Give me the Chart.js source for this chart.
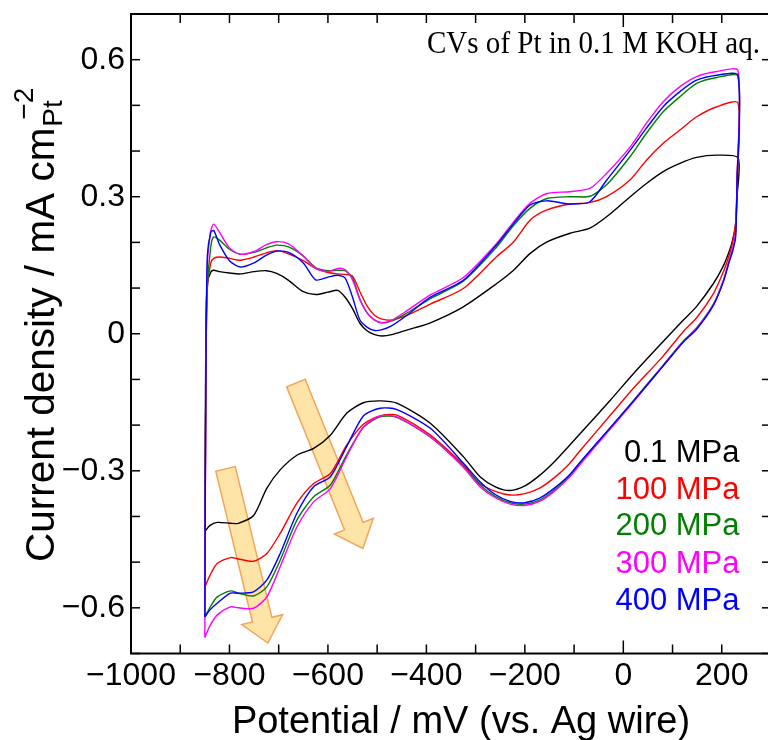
<!DOCTYPE html>
<html>
<head>
<meta charset="utf-8">
<script src="https://cdn.jsdelivr.net/npm/chart.js@4.4.1/dist/chart.umd.min.js"></script>
<style>
  html, body { margin: 0; padding: 0; background: #fff; overflow: hidden; }
  body { width: 768px; height: 740px; }
  canvas { display: block; }
</style>
</head>
<body>
<canvas id="cv" width="772" height="740"></canvas>
<script>
// potential grid (mV vs. Ag wire) for the anodic and cathodic sweeps
const potentialUp = [-850, -848, -845, -838, -832, -820, -800, -778, -750, -725, -704, -680, -650, -625, -600, -580, -565, -550, -535, -520, -505, -490, -470, -440, -392, -325, -257, -223, -189, -155, -108, -68, -34, 14, 47, 81, 115, 149, 190, 233];
const potentialDown = [231, 228, 222, 215, 203, 183, 149, 122, 80, 20, -26, -87, -110, -140, -170, -200, -230, -260, -291, -325, -392, -460, -494, -528, -562, -595, -629, -663, -697, -724, -751, -782, -798, -825, -840, -850];

// current density (mA cm-2)
const up01 = [-0.433, 0.0, 0.11, 0.135, 0.139, 0.136, 0.133, 0.131, 0.136, 0.138, 0.132, 0.117, 0.092, 0.086, 0.091, 0.095, 0.080, 0.055, 0.023, 0.006, -0.002, -0.005, -0.002, 0.008, 0.024, 0.059, 0.110, 0.139, 0.176, 0.201, 0.220, 0.231, 0.256, 0.300, 0.329, 0.355, 0.373, 0.386, 0.391, 0.385];
const down01 = [0.30, 0.24, 0.205, 0.18, 0.148, 0.11, 0.06, 0.03, -0.018, -0.088, -0.145, -0.218, -0.245, -0.28, -0.31, -0.333, -0.343, -0.335, -0.313, -0.269, -0.196, -0.152, -0.147, -0.151, -0.174, -0.222, -0.251, -0.266, -0.298, -0.338, -0.398, -0.415, -0.415, -0.413, -0.42, -0.433];

const up100 = [-0.555, -0.1, 0.10, 0.155, 0.165, 0.168, 0.165, 0.161, 0.168, 0.177, 0.182, 0.175, 0.160, 0.143, 0.134, 0.131, 0.130, 0.126, 0.092, 0.060, 0.040, 0.032, 0.030, 0.040, 0.065, 0.099, 0.169, 0.201, 0.249, 0.271, 0.284, 0.287, 0.300, 0.337, 0.380, 0.417, 0.446, 0.475, 0.497, 0.505];
const down100 = [0.33, 0.24, 0.20, 0.172, 0.135, 0.088, 0.035, 0.005, -0.05, -0.12, -0.178, -0.255, -0.285, -0.315, -0.338, -0.350, -0.353, -0.345, -0.328, -0.287, -0.222, -0.178, -0.180, -0.198, -0.244, -0.306, -0.328, -0.371, -0.437, -0.481, -0.498, -0.493, -0.490, -0.503, -0.53, -0.555];

const up200 = [-0.62, -0.1, 0.10, 0.19, 0.212, 0.205, 0.185, 0.174, 0.178, 0.188, 0.194, 0.190, 0.170, 0.145, 0.138, 0.139, 0.138, 0.122, 0.076, 0.045, 0.030, 0.024, 0.028, 0.045, 0.077, 0.115, 0.190, 0.237, 0.275, 0.296, 0.300, 0.301, 0.326, 0.388, 0.439, 0.486, 0.519, 0.548, 0.561, 0.563];
const down200 = [0.33, 0.215, 0.185, 0.16, 0.116, 0.065, 0.013, -0.016, -0.07, -0.147, -0.205, -0.282, -0.312, -0.342, -0.364, -0.373, -0.370, -0.356, -0.331, -0.290, -0.226, -0.183, -0.182, -0.205, -0.265, -0.331, -0.357, -0.408, -0.496, -0.554, -0.574, -0.568, -0.563, -0.576, -0.60, -0.62];

const up300 = [-0.665, -0.1, 0.15, 0.225, 0.240, 0.222, 0.188, 0.174, 0.180, 0.195, 0.2015, 0.197, 0.170, 0.143, 0.136, 0.143, 0.140, 0.118, 0.074, 0.045, 0.030, 0.024, 0.030, 0.050, 0.085, 0.123, 0.198, 0.245, 0.286, 0.307, 0.311, 0.318, 0.351, 0.409, 0.461, 0.508, 0.541, 0.563, 0.574, 0.576];
const down300 = [0.34, 0.22, 0.186, 0.16, 0.115, 0.064, 0.012, -0.017, -0.071, -0.15, -0.208, -0.285, -0.315, -0.345, -0.367, -0.376, -0.373, -0.359, -0.335, -0.292, -0.226, -0.182, -0.180, -0.204, -0.269, -0.339, -0.368, -0.423, -0.510, -0.576, -0.601, -0.600, -0.598, -0.616, -0.64, -0.665];

const up400 = [-0.62, -0.1, 0.17, 0.222, 0.226, 0.195, 0.160, 0.146, 0.155, 0.172, 0.181, 0.178, 0.155, 0.118, 0.124, 0.128, 0.122, 0.080, 0.030, 0.014, 0.007, 0.009, 0.018, 0.040, 0.080, 0.117, 0.195, 0.241, 0.282, 0.291, 0.284, 0.289, 0.336, 0.402, 0.450, 0.497, 0.530, 0.555, 0.566, 0.566];
const down400 = [0.33, 0.21, 0.18, 0.157, 0.113, 0.062, 0.010, -0.018, -0.072, -0.148, -0.205, -0.280, -0.310, -0.338, -0.360, -0.370, -0.367, -0.352, -0.324, -0.283, -0.207, -0.166, -0.163, -0.180, -0.247, -0.313, -0.335, -0.393, -0.481, -0.539, -0.565, -0.568, -0.568, -0.590, -0.605, -0.62];

const seriesNames = ['0.1 MPa', '100 MPa', '200 MPa', '300 MPa', '400 MPa'];
const seriesColors = ['#000000', '#ff0000', '#008000', '#ff00ff', '#0000ff'];
const seriesUp = [up01, up100, up200, up300, up400];
const seriesDown = [down01, down100, down200, down300, down400];

const xLabels = [-1000, -800, -600, -400, -200, 0, 200];
const yLabels = [-0.6, -0.3, 0, 0.3, 0.6];

// arrows: [tail, head] in data units
const arrowTails = [[-808, -0.296], [-665, -0.108]];
const arrowHeads = [[-722, -0.677], [-529, -0.470]];

const FONT = "'Liberation Sans', Arial, sans-serif";
Chart.defaults.font.family = FONT;
Chart.defaults.color = '#000';

function fmt(v) {
  if (v === 0) return '0';
  return (v < 0 ? '\u2212' : '') + Math.abs(v);
}
function fmtY(v) {
  if (Math.abs(v) < 1e-9) return '0';
  return (v < 0 ? '\u2212' : '') + Math.abs(v).toFixed(1);
}

const datasets = seriesNames.map((name, i) => {
  const pts = [];
  potentialUp.forEach((e, k) => pts.push({ x: e, y: seriesUp[i][k] }));
  potentialDown.forEach((e, k) => pts.push({ x: e, y: seriesDown[i][k] }));
  return {
    label: name,
    data: pts,
    borderColor: seriesColors[i],
    borderWidth: 1.4,
    pointRadius: 0,
    tension: 0.25,
    fill: false,
    order: seriesNames.length - 1 - i
  };
});

function blockArrow(ctx, x0, y0, x1, y1) {
  const dx = x1 - x0, dy = y1 - y0;
  const len = Math.hypot(dx, dy);
  const sw = 10, hw = 21, hl = 24;
  ctx.save();
  ctx.translate(x0, y0);
  ctx.rotate(Math.atan2(dy, dx));
  ctx.beginPath();
  ctx.moveTo(0, -sw);
  ctx.lineTo(len - hl, -sw);
  ctx.lineTo(len - hl, -hw);
  ctx.lineTo(len, 0);
  ctx.lineTo(len - hl, hw);
  ctx.lineTo(len - hl, sw);
  ctx.lineTo(0, sw);
  ctx.closePath();
  ctx.fillStyle = 'rgba(255, 210, 110, 0.6)';
  ctx.fill();
  ctx.strokeStyle = '#f2a55a';
  ctx.lineWidth = 1.5;
  ctx.stroke();
  ctx.restore();
}

function seg(ctx, a, b, c, d) {
  ctx.beginPath();
  ctx.moveTo(a, b);
  ctx.lineTo(c, d);
  ctx.stroke();
}

const decor = {
  id: 'decor',
  beforeDatasetsDraw(chart) {
    const ctx = chart.ctx;
    const xs = chart.scales.x, ys = chart.scales.y;
    arrowTails.forEach((t, i) => {
      const h = arrowHeads[i];
      blockArrow(ctx, xs.getPixelForValue(t[0]), ys.getPixelForValue(t[1]),
        xs.getPixelForValue(h[0]), ys.getPixelForValue(h[1]));
    });
  },
  afterDraw(chart) {
    const ctx = chart.ctx;
    const { left, right, top, bottom } = chart.chartArea;
    const xs = chart.scales.x, ys = chart.scales.y;
    ctx.save();
    // frame
    ctx.strokeStyle = '#000';
    ctx.lineWidth = 2;
    ctx.strokeRect(left, top, right - left, bottom - top);
    // inward ticks
    ctx.lineWidth = 1.5;
    xs.ticks.forEach(t => {
      const px = xs.getPixelForValue(t.value);
      const L = t.value === 0 ? 13 : 9;
      seg(ctx, px, bottom, px, bottom - L);
      seg(ctx, px, top, px, top + L);
    });
    ys.ticks.forEach(t => {
      const py = ys.getPixelForValue(t.value);
      seg(ctx, left, py, left + 9, py);
      seg(ctx, right, py, right - 9, py);
    });

    // x title
    ctx.fillStyle = '#000';
    ctx.font = '38px ' + FONT;
    ctx.textAlign = 'center';
    ctx.textBaseline = 'alphabetic';
    ctx.fillText('Potential / mV (vs. Ag wire)', 461, 733);

    // y title with subscript and superscript
    ctx.save();
    ctx.translate(54, 562);
    ctx.rotate(-Math.PI / 2);
    ctx.textAlign = 'left';
    ctx.font = '40.5px ' + FONT;
    const main = 'Current density / mA cm';
    ctx.fillText(main, 0, 0);
    const w = ctx.measureText(main).width;
    ctx.font = '28px ' + FONT;
    ctx.fillText('Pt', w + 1, 8);
    ctx.fillText('\u22122', w + 8, -21);
    ctx.restore();

    // inset title
    ctx.save();
    ctx.font = '32px "Liberation Serif", "Times New Roman", serif';
    const txt = 'CVs of Pt in 0.1 M KOH aq.';
    const tw = ctx.measureText(txt).width;
    ctx.translate(427, 53);
    ctx.scale(333 / tw, 1);
    ctx.textAlign = 'left';
    ctx.fillText(txt, 0, 0);
    ctx.restore();

    // legend
    ctx.font = '31px ' + FONT;
    ctx.textAlign = 'right';
    const baselines = [462, 498.5, 535, 572.5, 610];
    seriesNames.forEach((n, i) => {
      ctx.fillStyle = seriesColors[i];
      ctx.fillText(n, 739.5, baselines[i]);
    });
    ctx.restore();
  }
};

new Chart(document.getElementById('cv').getContext('2d'), {
  type: 'line',
  data: { datasets },
  options: {
    responsive: false,
    animation: false,
    layout: { padding: { top: 14, right: 1, left: 0, bottom: 0 } },
    plugins: { legend: { display: false }, tooltip: { enabled: false } },
    scales: {
      x: {
        type: 'linear',
        min: -1000,
        max: 300,
        afterFit: s => { s.height = 86.5; s.paddingLeft = 0; s.paddingRight = 0; },
        grid: { display: false, drawTicks: false },
        border: { display: false },
        ticks: {
          stepSize: 100,
          autoSkip: false,
          maxRotation: 0,
          padding: 3,
          font: { size: 32 },
          callback: v => xLabels.includes(v) ? fmt(v) : ''
        }
      },
      y: {
        type: 'linear',
        min: -0.7,
        max: 0.7,
        afterFit: s => { s.width = 131; s.paddingTop = 0; s.paddingBottom = 0; },
        grid: { display: false, drawTicks: false },
        border: { display: false },
        ticks: {
          stepSize: 0.1,
          autoSkip: false,
          padding: 6,
          font: { size: 32 },
          callback: v => yLabels.some(l => Math.abs(l - v) < 1e-6) ? fmtY(v) : ''
        }
      }
    }
  },
  plugins: [decor]
});
</script>
</body>
</html>
